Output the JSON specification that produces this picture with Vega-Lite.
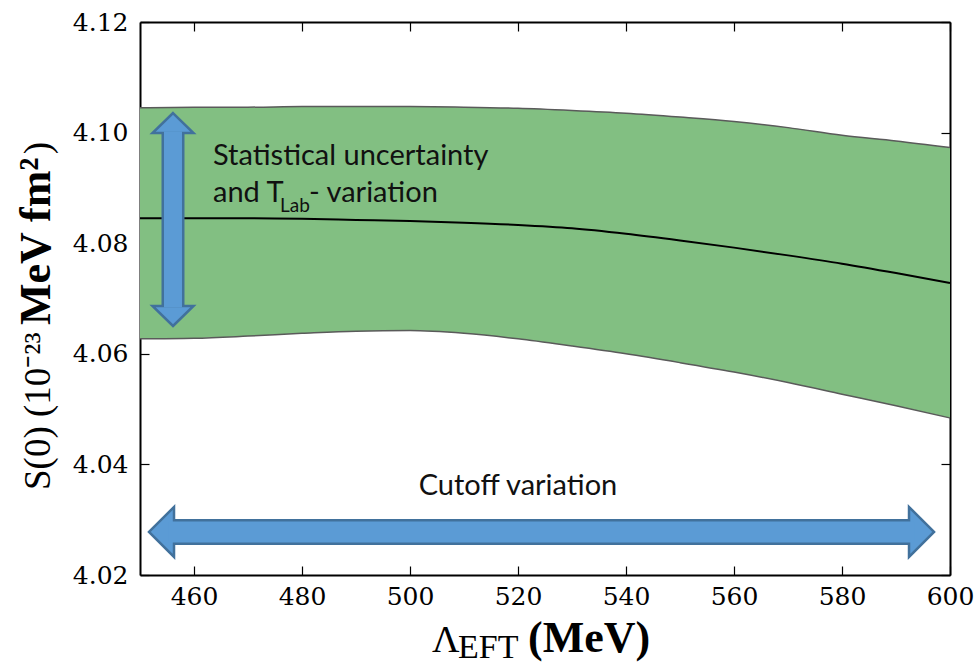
{
  "$schema": "https://vega.github.io/schema/vega-lite/v6.json",
  "width": 810,
  "height": 553,
  "autosize": {"type": "none"},
  "padding": {"left": 140, "top": 22, "right": 25, "bottom": 90},
  "background": "white",
  "config": {
    "font": "Liberation Serif",
    "view": {"stroke": null},
    "axis": {"grid": false, "zindex": 1, "domainColor": "#000", "domainWidth": 2, "tickColor": "#000", "tickWidth": 1.2, "labelColor": "#000", "labelFont": "DejaVu Serif", "labelFontSize": 25}
  },
  "datasets": {
    "band": [
      {"L": 450, "lo": 4.0627, "hi": 4.1045, "mid": 4.0845},
      {"L": 460, "lo": 4.0628, "hi": 4.1046, "mid": 4.0845},
      {"L": 470, "lo": 4.0632, "hi": 4.1046, "mid": 4.0845},
      {"L": 480, "lo": 4.0637, "hi": 4.1047, "mid": 4.0844},
      {"L": 490, "lo": 4.0641, "hi": 4.1047, "mid": 4.0842},
      {"L": 500, "lo": 4.0642, "hi": 4.1047, "mid": 4.0840},
      {"L": 510, "lo": 4.0637, "hi": 4.1046, "mid": 4.0837},
      {"L": 520, "lo": 4.0627, "hi": 4.1044, "mid": 4.0833},
      {"L": 530, "lo": 4.0614, "hi": 4.1040, "mid": 4.0827},
      {"L": 540, "lo": 4.0600, "hi": 4.1035, "mid": 4.0817},
      {"L": 550, "lo": 4.0584, "hi": 4.1028, "mid": 4.0805},
      {"L": 560, "lo": 4.0567, "hi": 4.1020, "mid": 4.0792},
      {"L": 570, "lo": 4.0548, "hi": 4.1009, "mid": 4.0778},
      {"L": 580, "lo": 4.0527, "hi": 4.0995, "mid": 4.0763},
      {"L": 590, "lo": 4.0506, "hi": 4.0985, "mid": 4.0746},
      {"L": 600, "lo": 4.0484, "hi": 4.0973, "mid": 4.0728}
    ],
    "hshaft": [{"x": 456.11, "x2": 592.59, "y": 4.02778}],
    "hshaftIn": [{"x": 455.2, "x2": 593.5, "y": 4.02778}],
    "vshaft": [{"x": 456.11, "y": 4.09993, "y2": 4.06864}],
    "vshaftIn": [{"x": 456.11, "y": 4.1002, "y2": 4.0684}],
    "heads": [
      {"x": 451.67, "y": 4.02778, "dir": "left"},
      {"x": 597.04, "y": 4.02778, "dir": "right"},
      {"x": 456.11, "y": 4.10354, "dir": "up"},
      {"x": 456.11, "y": 4.06503, "dir": "down"}
    ],
    "notes": [
      {"x": 463.52, "y": 4.09414, "t": "Statistical uncertainty"},
      {"x": 463.52, "y": 4.08745, "t": "and T"},
      {"x": 481.3, "y": 4.08745, "t": "- variation"}
    ],
    "sub": [{"x": 475.93, "y": 4.08564, "t": "Lab"}],
    "cut": [{"x": 520, "y": 4.03447, "t": "Cutoff variation"}],
    "xtitleN": [{"x": 504.07, "y": 4.00607, "t": "Λ"}],
    "xtitleS": [{"x": 508.89, "y": 4.00499, "t": "EFT"}],
    "xtitleB": [{"x": 521.85, "y": 4.00607, "t": "(MeV)"}],
    "ytitleN": [{"x": 433.33, "y": 4.03537, "t": "S(0) (10⁻²³"}, {"x": 433.33, "y": 4.0961, "t": ")"}],
    "ytitleB": [{"x": 433.33, "y": 4.06521, "t": "MeV fm²"}]
  },
  "resolve": {"axis": {"x": "independent", "y": "independent"}},
  "layer": [
    {
      "data": {"name": "band"},
      "mark": {"type": "area", "color": "#82BF82", "opacity": 1, "interpolate": "monotone"},
      "encoding": {
        "x": {"field": "L", "type": "quantitative", "scale": {"domain": [450, 600], "nice": false, "zero": false},
              "axis": {"orient": "bottom", "title": null, "values": [460, 480, 500, 520, 540, 560, 580, 600], "tickSize": -9, "labelPadding": 18, "labelFlush": false, "labelFont": "DejaVu Serif", "labelFontSize": 25, "labelColor": "#000"}},
        "y": {"field": "hi", "type": "quantitative", "scale": {"domain": [4.02, 4.12], "nice": false, "zero": false},
              "axis": {"orient": "left", "title": null, "values": [4.02, 4.04, 4.06, 4.08, 4.10, 4.12], "format": ".2f", "tickSize": -9, "labelPadding": 21, "labelFlush": false, "labelFont": "DejaVu Serif", "labelFontSize": 25, "labelColor": "#000"}},
        "y2": {"field": "lo"}
      }
    },
    {
      "data": {"name": "band"},
      "mark": {"type": "line", "color": "#5a5a5a", "strokeWidth": 1.5, "interpolate": "monotone"},
      "encoding": {
        "x": {"field": "L", "type": "quantitative", "scale": {"domain": [450, 600], "nice": false, "zero": false},
              "axis": {"orient": "top", "title": null, "values": [460, 480, 500, 520, 540, 560, 580, 600], "tickSize": -9, "labels": false}},
        "y": {"field": "hi", "type": "quantitative", "scale": {"domain": [4.02, 4.12], "nice": false, "zero": false},
              "axis": {"orient": "right", "title": null, "values": [4.02, 4.04, 4.06, 4.08, 4.10, 4.12], "tickSize": -9, "labels": false}}
      }
    },
    {
      "data": {"name": "band"},
      "mark": {"type": "line", "color": "#5a5a5a", "strokeWidth": 1.5, "interpolate": "monotone"},
      "encoding": {
        "x": {"field": "L", "type": "quantitative", "axis": null},
        "y": {"field": "lo", "type": "quantitative", "axis": null}
      }
    },
    {
      "data": {"name": "band"},
      "mark": {"type": "line", "color": "#000", "strokeWidth": 2, "interpolate": "monotone"},
      "encoding": {
        "x": {"field": "L", "type": "quantitative", "axis": null},
        "y": {"field": "mid", "type": "quantitative", "axis": null}
      }
    },
    {
      "data": {"name": "hshaft"},
      "mark": {"type": "rule", "color": "#41719C", "strokeWidth": 26, "strokeCap": "butt"},
      "encoding": {
        "x": {"field": "x", "type": "quantitative", "axis": null},
        "x2": {"field": "x2"},
        "y": {"field": "y", "type": "quantitative", "axis": null}
      }
    },
    {
      "data": {"name": "vshaft"},
      "mark": {"type": "rule", "color": "#41719C", "strokeWidth": 23, "strokeCap": "butt"},
      "encoding": {
        "x": {"field": "x", "type": "quantitative", "axis": null},
        "y": {"field": "y", "type": "quantitative", "axis": null},
        "y2": {"field": "y2"}
      }
    },
    {
      "data": {"name": "heads"},
      "mark": {"type": "point", "filled": true, "fill": "#5B9BD5", "stroke": "#41719C", "strokeWidth": 2.5, "opacity": 1, "size": 2500, "strokeJoin": "miter"},
      "encoding": {
        "x": {"field": "x", "type": "quantitative", "axis": null},
        "y": {"field": "y", "type": "quantitative", "axis": null},
        "shape": {"field": "dir", "type": "nominal", "legend": null,
                  "scale": {"domain": ["left", "right", "up", "down"],
                            "range": ["M0,0L1,-1L1,1Z", "M0,0L-1,-1L-1,1Z", "M0,0L0.82,0.8L-0.82,0.8Z", "M0,0L0.82,-0.8L-0.82,-0.8Z"]}}
      }
    },
    {
      "data": {"name": "hshaftIn"},
      "mark": {"type": "rule", "color": "#5B9BD5", "strokeWidth": 21, "strokeCap": "butt"},
      "encoding": {
        "x": {"field": "x", "type": "quantitative", "axis": null},
        "x2": {"field": "x2"},
        "y": {"field": "y", "type": "quantitative", "axis": null}
      }
    },
    {
      "data": {"name": "vshaftIn"},
      "mark": {"type": "rule", "color": "#5B9BD5", "strokeWidth": 18, "strokeCap": "butt"},
      "encoding": {
        "x": {"field": "x", "type": "quantitative", "axis": null},
        "y": {"field": "y", "type": "quantitative", "axis": null},
        "y2": {"field": "y2"}
      }
    },
    {
      "data": {"name": "notes"},
      "mark": {"type": "text", "font": "Lato", "fontSize": 29, "color": "#111", "align": "left", "baseline": "alphabetic"},
      "encoding": {
        "x": {"field": "x", "type": "quantitative", "axis": null},
        "y": {"field": "y", "type": "quantitative", "axis": null},
        "text": {"field": "t"}
      }
    },
    {
      "data": {"name": "sub"},
      "mark": {"type": "text", "font": "Lato", "fontSize": 19, "color": "#111", "align": "left", "baseline": "alphabetic"},
      "encoding": {
        "x": {"field": "x", "type": "quantitative", "axis": null},
        "y": {"field": "y", "type": "quantitative", "axis": null},
        "text": {"field": "t"}
      }
    },
    {
      "data": {"name": "cut"},
      "mark": {"type": "text", "font": "Lato", "fontSize": 29, "color": "#111", "align": "center", "baseline": "alphabetic"},
      "encoding": {
        "x": {"field": "x", "type": "quantitative", "axis": null},
        "y": {"field": "y", "type": "quantitative", "axis": null},
        "text": {"field": "t"}
      }
    },
    {
      "data": {"name": "xtitleN"},
      "mark": {"type": "text", "font": "Liberation Serif", "fontSize": 38, "color": "#000", "align": "left", "baseline": "alphabetic"},
      "encoding": {
        "x": {"field": "x", "type": "quantitative", "axis": null},
        "y": {"field": "y", "type": "quantitative", "axis": null},
        "text": {"field": "t"}
      }
    },
    {
      "data": {"name": "xtitleS"},
      "mark": {"type": "text", "font": "Liberation Serif", "fontSize": 34, "color": "#000", "align": "left", "baseline": "alphabetic"},
      "encoding": {
        "x": {"field": "x", "type": "quantitative", "axis": null},
        "y": {"field": "y", "type": "quantitative", "axis": null},
        "text": {"field": "t"}
      }
    },
    {
      "data": {"name": "xtitleB"},
      "mark": {"type": "text", "font": "Liberation Serif", "fontSize": 44, "fontWeight": "bold", "color": "#000", "align": "left", "baseline": "alphabetic"},
      "encoding": {
        "x": {"field": "x", "type": "quantitative", "axis": null},
        "y": {"field": "y", "type": "quantitative", "axis": null},
        "text": {"field": "t"}
      }
    },
    {
      "data": {"name": "ytitleN"},
      "mark": {"type": "text", "font": "Liberation Serif", "fontSize": 37, "color": "#000", "align": "left", "baseline": "alphabetic", "angle": 270},
      "encoding": {
        "x": {"field": "x", "type": "quantitative", "axis": null},
        "y": {"field": "y", "type": "quantitative", "axis": null},
        "text": {"field": "t"}
      }
    },
    {
      "data": {"name": "ytitleB"},
      "mark": {"type": "text", "font": "Liberation Serif", "fontSize": 44, "fontWeight": "bold", "color": "#000", "align": "left", "baseline": "alphabetic", "angle": 270},
      "encoding": {
        "x": {"field": "x", "type": "quantitative", "axis": null},
        "y": {"field": "y", "type": "quantitative", "axis": null},
        "text": {"field": "t"}
      }
    }
  ]
}
